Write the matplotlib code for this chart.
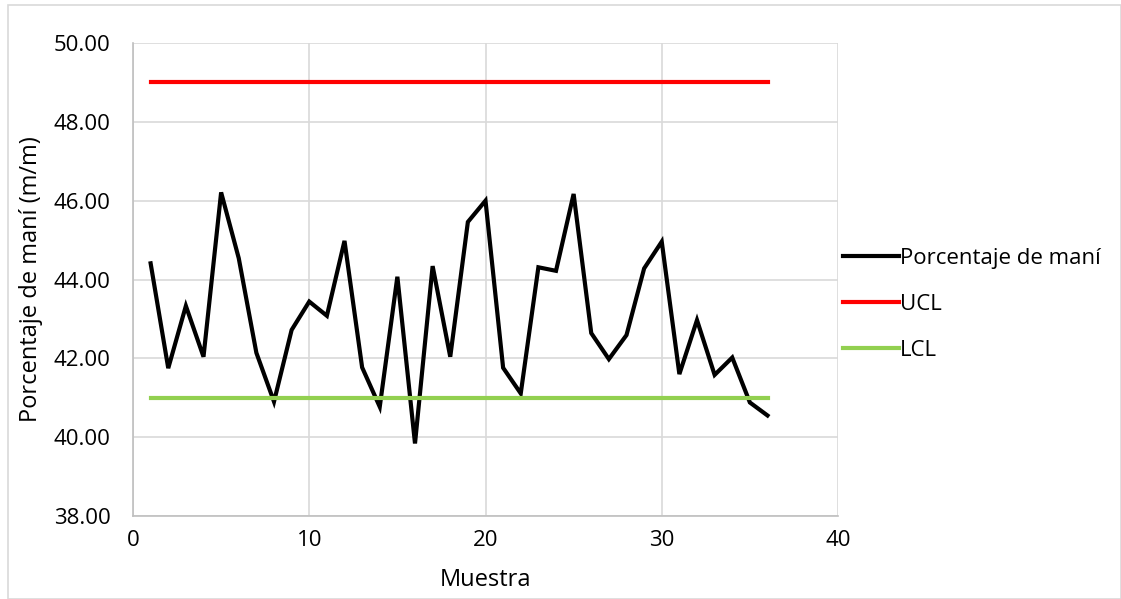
import matplotlib
matplotlib.use("Agg")
import matplotlib.pyplot as plt
from matplotlib.patches import Rectangle

muestra = list(range(1, 37))
porcentaje = [44.41, 41.75, 43.33, 42.04, 46.21, 44.54, 42.14, 40.90, 42.72, 43.44,
              43.08, 44.98, 41.77, 40.77, 44.07, 39.84, 44.34, 42.04, 45.46, 46.00,
              41.76, 41.11, 44.31, 44.22, 46.17, 42.64, 41.98, 42.59, 44.28, 44.96,
              41.60, 42.97, 41.58, 42.02, 40.88, 40.55]
ucl = [49.00] * 36
lcl = [41.00] * 36

y_ticks = [38, 40, 42, 44, 46, 48, 50]
x_ticks = [0, 10, 20, 30, 40]

plt.rcParams['font.family'] = ['Open Sans', 'DejaVu Sans']

fig = plt.figure(figsize=(11.21, 5.99), dpi=100)
ax = fig.add_axes([133/1121, 1-516/599, (838-133)/1121, (516-43)/599])

fig.patches.append(Rectangle((8/1121, 0), 1-8/1121, 1-5/599, transform=fig.transFigure,
                             fill=False, edgecolor='#d9d9d9', linewidth=1.2))

ax.plot(muestra, porcentaje, color='black', linewidth=3, label='Porcentaje de maní',
        solid_joinstyle='miter')
ax.plot(muestra, ucl, color='#ff0000', linewidth=3, label='UCL')
ax.plot(muestra, lcl, color='#92d050', linewidth=3, label='LCL')

ax.set_xlim(0, 40)
ax.set_ylim(38, 50)
ax.set_xticks(x_ticks)
ax.set_yticks(y_ticks)
ax.set_yticklabels([f"{v:.2f}" for v in y_ticks])
ax.tick_params(axis='y', length=0, labelsize=16, pad=16, colors='black')
ax.tick_params(axis='x', length=0, labelsize=16, pad=10, colors='black')
ax.grid(True, color='#d9d9d9', linewidth=1.2)
ax.set_axisbelow(True)
for s in ['top', 'right']:
    ax.spines[s].set_visible(False)
for s in ['left', 'bottom']:
    ax.spines[s].set_color('#bfbfbf')
    ax.spines[s].set_linewidth(1.2)

ax.set_xlabel('Muestra', fontsize=17, labelpad=12)
ax.set_ylabel('Porcentaje de maní (m/m)', fontsize=17, labelpad=8)

leg = ax.legend(loc='center left', bbox_to_anchor=(0.995, 0.447), frameon=False,
                fontsize=16, handlelength=2.5, handletextpad=0.05, labelspacing=1.12,
                borderaxespad=0.0)

fig.savefig('out.png', dpi=100)
